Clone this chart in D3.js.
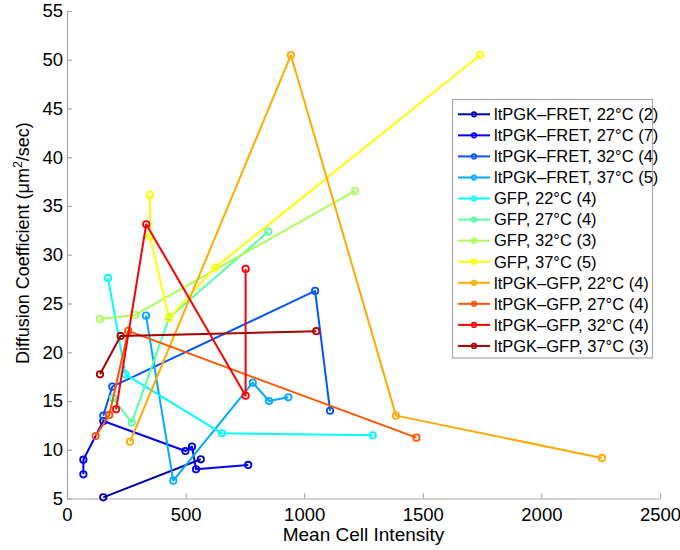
<!DOCTYPE html>
<html>
<head>
<meta charset="utf-8">
<script src="https://cdn.jsdelivr.net/npm/d3@7"></script>
<style>
  html, body { margin: 0; padding: 0; background: #fff; }
  svg { display: block; font-family: "Liberation Sans", Arial, Helvetica, sans-serif; }
</style>
</head>
<body>
<svg id="chart" width="680" height="550"></svg>
<script>
// Series labels, in plotting order
const seriesNames = [
  "ltPGK–FRET, 22°C (2)", "ltPGK–FRET, 27°C (7)", "ltPGK–FRET, 32°C (4)", "ltPGK–FRET, 37°C (5)",
  "GFP, 22°C (4)", "GFP, 27°C (4)", "GFP, 32°C (3)", "GFP, 37°C (5)",
  "ltPGK–GFP, 22°C (4)", "ltPGK–GFP, 27°C (4)", "ltPGK–GFP, 32°C (4)", "ltPGK–GFP, 37°C (3)"
];

// Mean cell intensity per measurement
const intensity = [
  [153, 564],
  [69, 69, 153, 499, 527, 544, 764],
  [153, 191, 1046, 1109],
  [333, 448, 783, 852, 933],
  [173, 246, 653, 1289],
  [194, 273, 432, 849],
  [139, 287, 1214],
  [350, 350, 430, 624, 1741],
  [266, 944, 1387, 2255],
  [121, 178, 258, 1473],
  [207, 334, 753, 753],
  [139, 226, 1051]
];

// Diffusion coefficient (µm²/sec) per measurement
const diffusion = [
  [5.12, 9.02],
  [7.48, 8.98, 12.95, 9.87, 10.32, 8.0, 8.44],
  [13.5, 16.47, 26.29, 14.0],
  [23.76, 6.83, 16.88, 15.0, 15.38],
  [27.62, 17.74, 11.69, 11.48],
  [15.3, 12.78, 23.6, 32.38],
  [23.42, 23.83, 36.55],
  [36.14, 31.86, 23.49, 28.68, 50.47],
  [10.83, 50.47, 13.5, 9.16],
  [11.41, 13.57, 22.19, 11.24],
  [14.15, 33.13, 15.55, 28.55],
  [17.74, 21.67, 22.16]
];

const xTicks = [0, 500, 1000, 1500, 2000, 2500];
const yTicks = [5, 10, 15, 20, 25, 30, 35, 40, 45, 50, 55];

// jet(12) colormap
const colors = [
  "#0000aa", "#0000ff", "#0055ff", "#00aaff", "#00ffff", "#55ffaa",
  "#aaff55", "#ffff00", "#ffaa00", "#ff5500", "#ff0000", "#aa0000"
];

const svg = d3.select("#chart");
const plot = { left: 67, right: 660, top: 11, bottom: 498.5 };

const x = d3.scaleLinear().domain([0, 2500]).range([plot.left, plot.right]);
const y = d3.scaleLinear().domain([5, 55]).range([plot.bottom, plot.top]);

const axisColor = "#a8a8a8";

// axes (left and bottom only, ticks pointing inward)
const xAxis = svg.append("g")
  .attr("transform", `translate(0,${plot.bottom})`)
  .call(d3.axisBottom(x).tickValues(xTicks).tickFormat(d3.format("d"))
    .tickSizeInner(-5).tickSizeOuter(0).tickPadding(9));
const yAxis = svg.append("g")
  .attr("transform", `translate(${plot.left},0)`)
  .call(d3.axisLeft(y).tickValues(yTicks).tickFormat(d3.format("d"))
    .tickSizeInner(-5).tickSizeOuter(0).tickPadding(9));

[xAxis, yAxis].forEach(g => {
  g.selectAll(".domain").attr("stroke", axisColor).attr("stroke-width", 1.2);
  g.selectAll(".tick line").attr("stroke", axisColor).attr("stroke-width", 1.2);
  g.selectAll(".tick text").attr("fill", "#000").style("font-size", "18.5px")
    .style("font-family", "'Liberation Sans', Arial, sans-serif");
});
yAxis.selectAll(".tick text").attr("x", -4);

// axis titles
svg.append("text")
  .attr("x", (plot.left + plot.right) / 2)
  .attr("y", 541)
  .attr("text-anchor", "middle")
  .style("font-size", "19px")
  .text("Mean Cell Intensity");

const yTitle = svg.append("text")
  .attr("transform", "translate(29,243) rotate(-90)")
  .attr("text-anchor", "middle")
  .style("font-size", "18px");
yTitle.append("tspan").text("Diffusion Coefficient (μm");
yTitle.append("tspan").attr("dy", -7).style("font-size", "12.5px").text("2");
yTitle.append("tspan").attr("dy", 7).text("/sec)");

// series
const line = d3.line().x(d => x(d[0])).y(d => y(d[1]));
seriesNames.forEach((name, i) => {
  const pts = intensity[i].map((v, j) => [v, diffusion[i][j]]);
  const g = svg.append("g");
  g.append("path")
    .attr("d", line(pts))
    .attr("fill", "none")
    .attr("stroke", colors[i])
    .attr("stroke-width", 2)
    .attr("stroke-linejoin", "round");
  g.selectAll("circle").data(pts).join("circle")
    .attr("cx", d => x(d[0]))
    .attr("cy", d => y(d[1]))
    .attr("r", 3.2)
    .attr("fill", "none")
    .attr("stroke", colors[i])
    .attr("stroke-width", 1.8);
});

// legend
const legend = svg.append("g");
legend.append("rect")
  .attr("x", 452.5).attr("y", 99.5)
  .attr("width", 200).attr("height", 258.5)
  .attr("fill", "#fff")
  .attr("stroke", "#a8a8a8")
  .attr("stroke-width", 1.2);
const rowY = i => 114.3 + i * 21.06;
seriesNames.forEach((name, i) => {
  const r = legend.append("g").attr("transform", `translate(0,${rowY(i)})`);
  r.append("line").attr("x1", 458).attr("x2", 490).attr("y1", 0).attr("y2", 0)
    .attr("stroke", colors[i]).attr("stroke-width", 2);
  r.append("circle").attr("cx", 474).attr("cy", 0).attr("r", 2.3)
    .attr("fill", "none").attr("stroke", colors[i]).attr("stroke-width", 1.6);
  r.append("text").attr("x", 494).attr("y", 0).attr("dy", "0.35em")
    .style("font-size", "16.5px").text(name);
});
</script>
</body>
</html>
